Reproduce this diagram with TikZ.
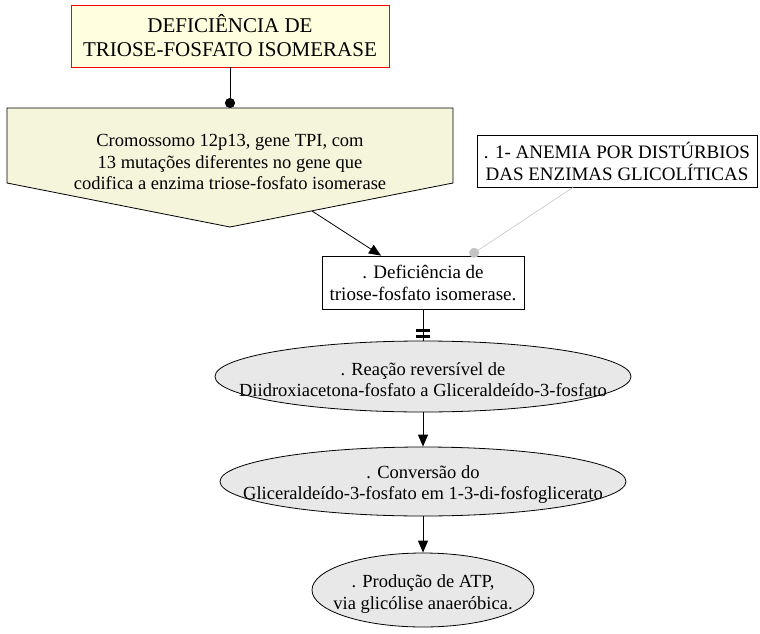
\documentclass[tikz,border=0pt]{standalone}
\usepackage{fontspec}
\setmainfont{Liberation Serif}
\usetikzlibrary{shapes.geometric,arrows.meta}
\definecolor{titleyellow}{RGB}{255,255,224}
\definecolor{genebeige}{RGB}{245,245,220}
\definecolor{ovalgray}{RGB}{232,232,232}
\definecolor{linkgray}{RGB}{196,196,196}
\begin{document}
\begin{tikzpicture}[x=1pt,y=-1pt,
    txt/.style={align=center, inner sep=0pt, font=\fontsize{18.5}{21.5}\selectfont},
    plainbox/.style={txt, draw, fill=white, line width=0.8pt},
    oval/.style={ellipse, draw, fill=ovalgray, line width=0.8pt, inner sep=0pt},
    flow/.style={line width=0.8pt, -{Triangle[length=12pt,width=10pt]}}]
                \useasboundingbox (0,0) rectangle (760,634);
                \node[plainbox, draw=red, fill=titleyellow, minimum width=318pt, minimum height=62pt, font=\fontsize{21}{24}\selectfont] (title) at (230,36) {DEFICIÊNCIA DE\\TRIOSE-FOSFATO ISOMERASE};
                \filldraw[fill=genebeige, line width=0.8pt] (7,108) -- (453,108) -- (453,183) -- (230,227) -- (7,183) -- cycle;
                \coordinate (genetop) at (230,108);
                \coordinate (geneedge) at (312,211);
                \node[txt] (gene) at (230,162) {Cromossomo 12p13, gene TPI, com\\13 mutações diferentes no gene que\\codifica a enzima triose-fosfato isomerase};
                \node[plainbox, minimum width=280pt, minimum height=52pt, font=\fontsize{19}{22}\selectfont] (anemia) at (617,161) {. 1- ANEMIA POR DISTÚRBIOS\\DAS ENZIMAS GLICOLÍTICAS};
                \node[plainbox, minimum width=202pt, minimum height=53pt, font=\fontsize{19}{22}\selectfont] (defic) at (423,282.5) {. Deficiência de\\triose-fosfato isomerase.};
                \node[oval, minimum width=416pt, minimum height=71pt] (reacao) at (423,376.5) {};
                \node[txt, yshift=-3pt] (reacaotxt) at (reacao) {. Reação reversível de\\Diidroxiacetona-fosfato a Gliceraldeído-3-fosfato};
                \node[oval, minimum width=406pt, minimum height=69pt] (conversao) at (423,481.5) {};
                \node[txt, yshift=-3pt] (conversaotxt) at (conversao) {. Conversão do\\Gliceraldeído-3-fosfato em 1-3-di-fosfoglicerato};
                \node[oval, minimum width=222pt, minimum height=74pt] (atp) at (423,590) {};
                \node[txt, yshift=-4pt] (atptxt) at (atp) {. Produção de ATP,\\via glicólise anaeróbica.};
                \draw[line width=0.8pt, -{Circle[length=10pt]}] (title) -- (genetop);
                \draw[flow] (geneedge) -- ([xshift=-42pt]defic.north);
                \draw[linkgray, line width=0.6pt, -{Circle[length=10pt]}] ([xshift=-44pt]anemia.south) -- ([xshift=47pt]defic.north);
                \draw[line width=0.8pt] (defic.south) -- (reacao.north);
                \draw[line width=3pt] ([xshift=-7pt,yshift=4.5pt]reacao.north) -- ++(14,0);
                \draw[line width=3pt] ([xshift=-7pt,yshift=10.5pt]reacao.north) -- ++(14,0);
                \draw[flow] (reacao) -- (conversao);
                \draw[flow] (conversao) -- (atp);
            \end{tikzpicture}
\end{document}
